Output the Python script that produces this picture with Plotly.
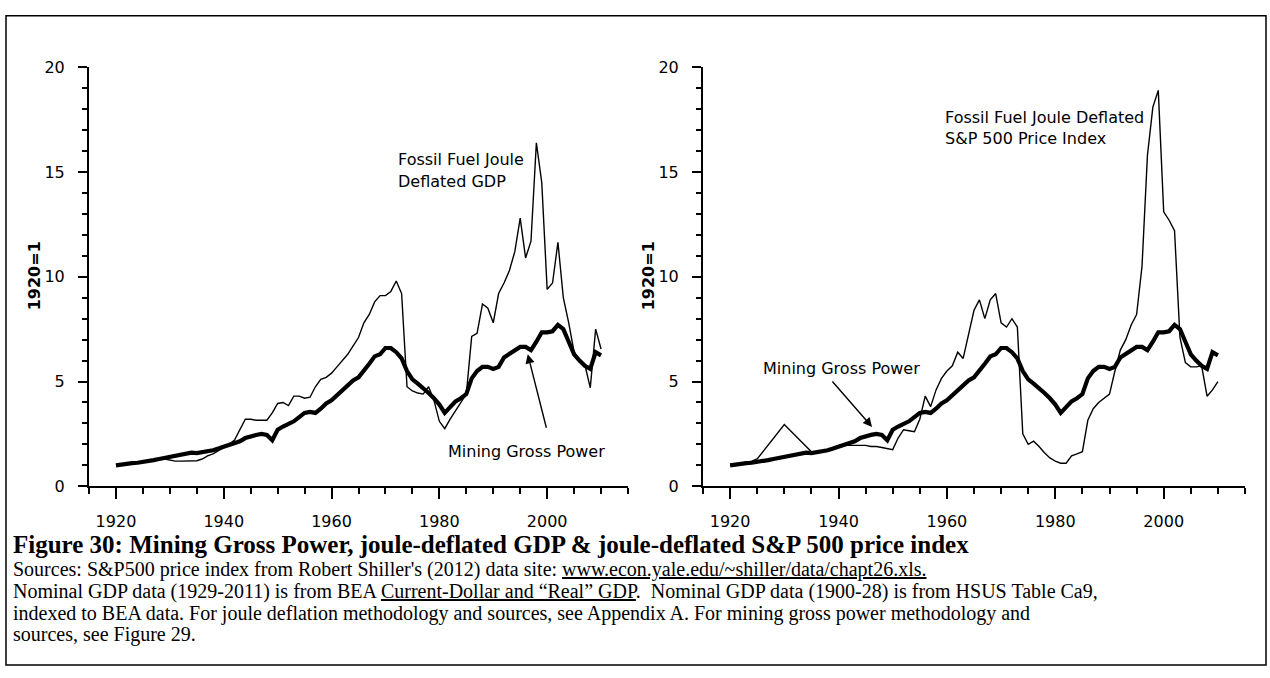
import plotly.graph_objects as go
from plotly.subplots import make_subplots

W, H = 1270, 678

# ── data (1920 = 1) ──
years = list(range(1920, 2011))
mining_gross_power = [
    1.0, 1.05, 1.08, 1.1, 1.12, 1.15, 1.2, 1.25, 1.3, 1.35,
    1.38, 1.45, 1.5, 1.58, 1.6, 1.58, 1.62, 1.68, 1.72, 1.8,
    1.88, 1.95, 2.05, 2.15, 2.3, 2.4, 2.45, 2.5, 2.45, 2.2,
    2.7, 2.85, 2.95, 3.1, 3.3, 3.5, 3.55, 3.5, 3.7, 3.95,
    4.1, 4.35, 4.6, 4.85, 5.05, 5.2, 5.5, 5.85, 6.2, 6.3,
    6.6, 6.6, 6.4, 6.1, 5.5, 5.1, 4.9, 4.7, 4.45, 4.2,
    3.9, 3.5, 3.75, 4.05, 4.2, 4.4, 5.15, 5.5, 5.7, 5.7,
    5.6, 5.7, 6.15, 6.3, 6.5, 6.65, 6.65, 6.5, 6.9, 7.35,
    7.35, 7.4, 7.7, 7.5, 6.9, 6.3, 6.0, 5.75, 5.6, 6.4,
    6.25,
]
joule_gdp = [
    1.0, 1.05, 1.08, 1.1, 1.12, 1.15, 1.2, 1.25, 1.28, 1.3,
    1.25, 1.2, 1.2, 1.2, 1.2, 1.22, 1.3, 1.45, 1.55, 1.7,
    1.85, 2.0, 2.2, 2.7, 3.2, 3.2, 3.15, 3.15, 3.15, 3.5,
    3.95, 4.0, 3.85, 4.3, 4.3, 4.2, 4.25, 4.75, 5.1, 5.2,
    5.4, 5.7, 6.0, 6.3, 6.7, 7.1, 7.8, 8.2, 8.8, 9.1,
    9.1, 9.3, 9.8, 9.2, 4.75, 4.55, 4.45, 4.4, 4.75, 4.1,
    3.1, 2.75, 3.2, 3.6, 4.0, 4.4, 7.15, 7.3, 8.7, 8.5,
    7.8, 9.2, 9.7, 10.3, 11.2, 12.8, 10.9, 11.7, 16.4, 14.5,
    9.4, 9.7, 11.65, 9.0, 7.8, 6.4, 6.0, 5.8, 4.7, 7.5,
    6.55,
]
sp_years = [1920, 1921, 1922, 1923, 1924, 1925, 1930] + list(range(1935, 2011))
joule_sp500 = [
    1.0, 1.05, 1.1, 1.15, 1.2, 1.3, 2.95,
    1.65, 1.65, 1.7, 1.75, 1.8,
    1.9, 1.95, 1.95, 1.95, 1.95, 1.95, 1.9, 1.9, 1.85, 1.8,
    1.75, 2.3, 2.7, 2.65, 2.6, 3.2, 4.3, 3.8, 4.6, 5.15,
    5.5, 5.75, 6.4, 6.1, 7.2, 8.4, 8.9, 8.0, 8.9, 9.2,
    7.8, 7.6, 8.0, 7.6, 2.5, 2.0, 2.15, 1.9, 1.6, 1.35,
    1.2, 1.1, 1.1, 1.45, 1.55, 1.65, 3.15, 3.7, 4.0, 4.2,
    4.4, 5.5, 6.5, 7.0, 7.7, 8.2, 10.5, 15.8, 18.1, 18.9,
    13.1, 12.7, 12.2, 7.1, 5.9, 5.7, 5.7, 5.75, 4.3, 4.6,
    5.0,
]

SANS = "DejaVu Sans"
SERIF = "Liberation Serif"


def px_x(p):
    return p / W


def px_y(p):
    return 1 - p / H


fig = make_subplots(rows=1, cols=2)

for col, (xs, ys) in enumerate([(years, joule_gdp), (sp_years, joule_sp500)], start=1):
    fig.add_trace(go.Scatter(x=xs, y=ys, mode="lines", line=dict(color="black", width=1.4),
                             showlegend=False), row=1, col=col)
    fig.add_trace(go.Scatter(x=years, y=mining_gross_power, mode="lines",
                             line=dict(color="black", width=4.2), showlegend=False), row=1, col=col)

axis_common = dict(showgrid=False, zeroline=False, showline=True, linecolor="black", linewidth=2,
                   ticks="outside", tickcolor="black", tickwidth=2,
                   tickfont=dict(family=SANS, size=16, color="black"))
fig.update_xaxes(range=[1915, 2015], tick0=1920, dtick=20, ticklen=11, ticklabelstandoff=9,
                 minor=dict(dtick=5, tick0=1915, ticks="outside", ticklen=6, tickwidth=2,
                            tickcolor="black"),
                 **axis_common)
fig.update_yaxes(range=[0, 20], tick0=0, dtick=5, ticklen=9, ticklabelstandoff=10,
                 minor=dict(dtick=1, ticks="outside", ticklen=5, tickwidth=2, tickcolor="black"),
                 **axis_common)

fig.update_layout(
    xaxis=dict(domain=[px_x(89), px_x(628)], anchor="y"),
    yaxis=dict(domain=[px_y(491), px_y(60)], anchor="x"),
    xaxis2=dict(domain=[px_x(703), px_x(1245)], anchor="y2"),
    yaxis2=dict(domain=[px_y(491), px_y(60)], anchor="x2"),
)

ann = []
lab = dict(family=SANS, size=16, color="black")
# series labels, left panel
ann.append(dict(x=1972.0, y=15.6, xref="x", yref="y", text="Fossil Fuel Joule", showarrow=False,
                xanchor="left", font=lab))
ann.append(dict(x=1972.0, y=14.55, xref="x", yref="y", text="Deflated GDP", showarrow=False,
                xanchor="left", font=lab))
ann.append(dict(x=1981.3, y=1.67, xref="x", yref="y", text="Mining Gross Power", showarrow=False,
                xanchor="left", font=lab))
ann.append(dict(x=1996.4, y=6.3, xref="x", yref="y", ax=19, ay=75, axref="pixel", ayref="pixel",
                text="", showarrow=True, arrowhead=2, arrowsize=1.3, arrowwidth=1.4,
                arrowcolor="black"))
# series labels, right panel
ann.append(dict(x=1959.2, y=17.6, xref="x2", yref="y2", text="Fossil Fuel Joule Deflated",
                showarrow=False, xanchor="left", font=lab))
ann.append(dict(x=1959.2, y=16.6, xref="x2", yref="y2", text="S&amp;P 500 Price Index",
                showarrow=False, xanchor="left", font=lab))
ann.append(dict(x=1925.7, y=5.6, xref="x2", yref="y2", text="Mining Gross Power", showarrow=False,
                xanchor="left", font=lab))
ann.append(dict(x=1946.2, y=2.83, xref="x2", yref="y2", ax=-41, ay=-47, axref="pixel",
                ayref="pixel", text="", showarrow=True, arrowhead=2, arrowsize=1.3,
                arrowwidth=1.4, arrowcolor="black"))

# y-axis titles
for xp in (34, 648):
    ann.append(dict(x=px_x(xp), y=px_y(275), xref="paper", yref="paper", text="<b>1920=1</b>",
                    textangle=-90, showarrow=False, xanchor="center", yanchor="middle",
                    font=dict(family=SANS, size=16, color="black")))

# caption
ul = "<span style='text-decoration:underline'>%s</span>"
caption = [
    ("<b>Figure 30: Mining Gross Power, joule-deflated GDP &amp; joule-deflated S&amp;P 500 "
     "price index</b>", 25, 551),
    ("Sources: S&amp;P500 price index from Robert Shiller's (2012) data site: "
     + ul % "www.econ.yale.edu/~shiller/data/chapt26.xls.", 20, 577),
    ("Nominal GDP data (1929-2011) is from BEA " + ul % "Current-Dollar and “Real” GDP"
     + ".\u00a0 Nominal GDP data (1900-28) is from HSUS Table Ca9,", 20, 599.3),
    ("indexed to BEA data. For joule deflation methodology and sources, see Appendix A. "
     "For mining gross power methodology and", 20, 621.6),
    ("sources, see Figure 29.", 20, 643.9),
]
for text, size, yp in caption:
    ann.append(dict(x=px_x(11), y=px_y(yp), xref="paper", yref="paper", text=text,
                    showarrow=False, xanchor="left", yanchor="middle",
                    font=dict(family=SERIF, size=size, color="black")))

fig.update_layout(
    width=W, height=H, margin=dict(l=0, r=0, t=0, b=0),
    paper_bgcolor="white", plot_bgcolor="white",
    annotations=ann,
    shapes=[dict(type="rect", xref="paper", yref="paper", x0=px_x(6), x1=px_x(1266),
                 y0=px_y(675), y1=px_y(7), line=dict(color="black", width=1.5))],
)

# page body has an 8px default margin; drop it so the figure sits at (0, 0)
fig.write_html("out.html", config={"displayModeBar": False},
               post_script="document.body.style.margin = '0px';")
